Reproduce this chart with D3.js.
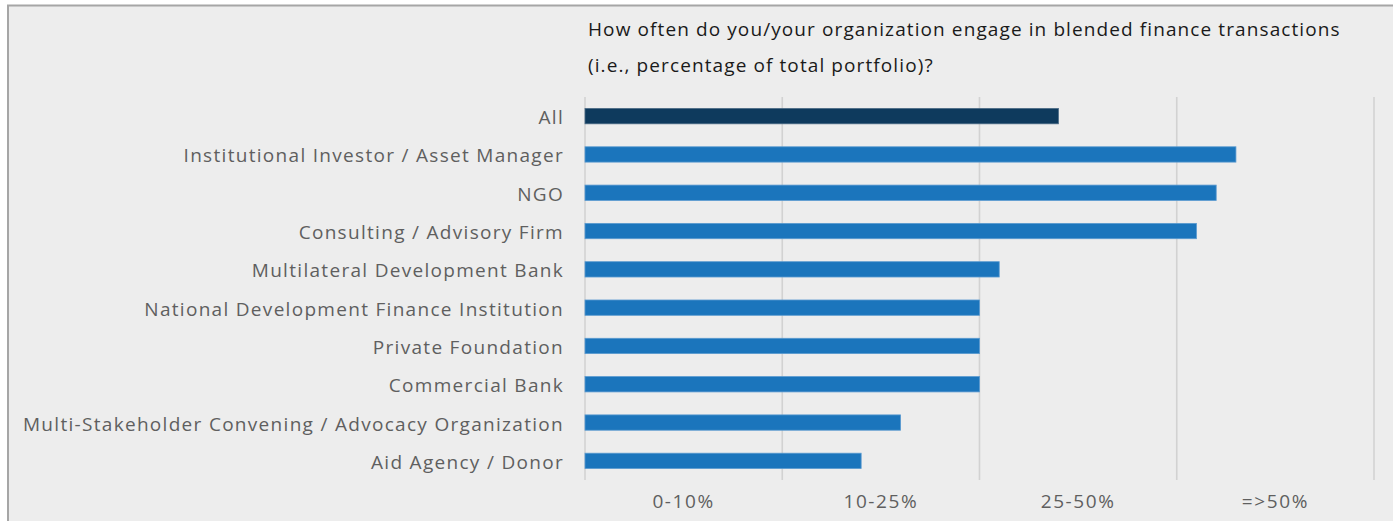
<!DOCTYPE html>
<html>
<head>
<meta charset="utf-8">
<script src="https://cdn.jsdelivr.net/npm/d3@7"></script>
<style>
  html, body { margin: 0; padding: 0; background: #ffffff; }
  svg { display: block; }
  text { font-family: "Open Sans", Lato, sans-serif; }
</style>
</head>
<body>
<svg id="chart" width="1393" height="521"></svg>
<script>
// Respondent groups, top to bottom
const categories = [
  "All",
  "Institutional Investor / Asset Manager",
  "NGO",
  "Consulting / Advisory Firm",
  "Multilateral Development Bank",
  "National Development Finance Institution",
  "Private Foundation",
  "Commercial Bank",
  "Multi-Stakeholder Convening / Advocacy Organization",
  "Aid Agency / Donor"
];
// Average response on the 0–4 frequency scale
const values = [2.40, 3.30, 3.20, 3.10, 2.10, 2.00, 2.00, 2.00, 1.60, 1.40];
// Frequency bands shown along the bottom
const bandLabels = ["0-10%", "10-25%", "25-50%", "=>50%"];
const titleLines = [
  "How often do you/your organization engage in blended finance transactions",
  "(i.e., percentage of total portfolio)?"
];

const svg = d3.select("#chart");
const W = 1393, H = 521;

// Panel frame
svg.append("rect")
  .attr("x", 8).attr("y", 5.5)
  .attr("width", W + 10).attr("height", H)
  .attr("fill", "#ededed")
  .attr("stroke", "#a6a6a6")
  .attr("stroke-width", 2);

const x = d3.scaleLinear().domain([0, 4]).range([585, 1374]);
const y = d3.scaleBand().domain(categories).range([97, 480])
  .paddingInner(0.6).paddingOuter(0.3);
const xBand = d3.scaleBand().domain(bandLabels).range(x.range());

// Vertical gridlines at each band boundary
svg.append("g")
  .selectAll("line")
  .data(d3.range(0, 5))
  .join("line")
  .attr("x1", d => x(d)).attr("x2", d => x(d))
  .attr("y1", 97).attr("y2", 480)
  .attr("stroke", "#d2d2d2")
  .attr("stroke-width", 1.6);

// Bars
svg.append("g")
  .selectAll("rect")
  .data(categories)
  .join("rect")
  .attr("x", x(0))
  .attr("y", d => y(d))
  .attr("width", (d, i) => x(values[i]) - x(0))
  .attr("height", y.bandwidth())
  .attr("fill", (d, i) => i === 0 ? "#0e3a5d" : "#1b75bc")
  .attr("stroke", (d, i) => i === 0 ? "#4a6a85" : "#5a9ad0")
  .attr("stroke-width", 0.8);

// Category labels
svg.append("g")
  .selectAll("text")
  .data(categories)
  .join("text")
  .attr("x", 564)
  .attr("y", d => y(d) + y.bandwidth() / 2)
  .attr("dy", "0.42em")
  .attr("text-anchor", "end")
  .attr("fill", "#5f5f5f")
  .attr("font-size", 19)
  .attr("letter-spacing", "1.3px")
  .text(d => d);

// Band labels along the bottom
svg.append("g")
  .selectAll("text")
  .data(bandLabels)
  .join("text")
  .attr("x", d => xBand(d) + xBand.bandwidth() / 2)
  .attr("y", 508)
  .attr("text-anchor", "middle")
  .attr("fill", "#5f5f5f")
  .attr("font-size", 19)
  .attr("letter-spacing", "1.6px")
  .text(d => d);

// Title
svg.append("g")
  .selectAll("text")
  .data(titleLines)
  .join("text")
  .attr("x", 588)
  .attr("y", (d, i) => 36 + i * 36)
  .attr("fill", "#1a1a1a")
  .attr("font-size", 19)
  .attr("letter-spacing", "1.1px")
  .text(d => d);
</script>
</body>
</html>
